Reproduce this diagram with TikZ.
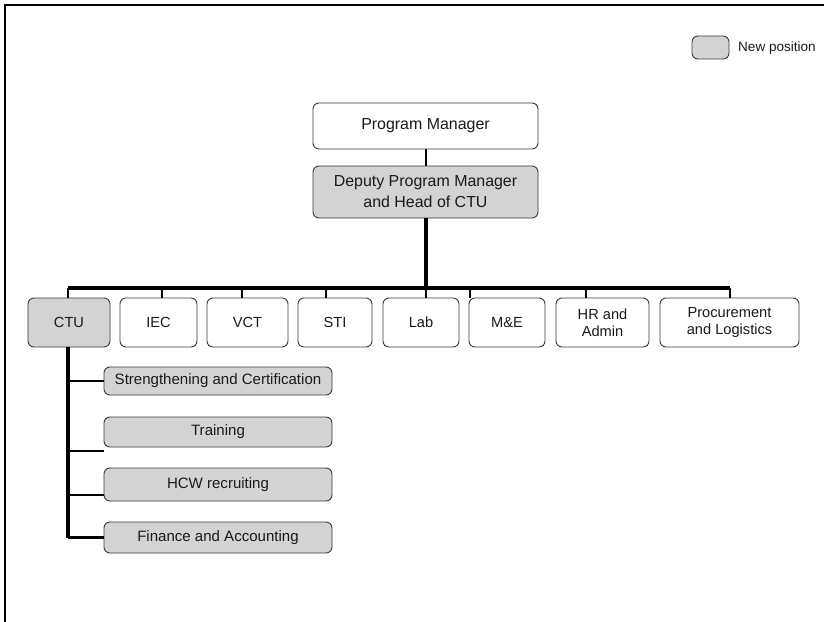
\documentclass[tikz,border=0pt]{standalone}
\usepackage{fontspec}
\setmainfont{Liberation Sans}
\definecolor{boxgray}{HTML}{D3D3D3}
\definecolor{edgegray}{HTML}{3A3A3A}
\definecolor{txt}{HTML}{1A1A1A}
\tikzset{
  orgbox/.style={draw=edgegray, line width=0.9bp, rounded corners=6bp, fill=white,
    inner sep=0pt, align=center, text=txt, font=\fontsize{14.7}{17}\selectfont},
  newbox/.style={orgbox, fill=boxgray},
  topfont/.style={font=\fontsize{16}{21}\selectfont},
  subfont/.style={font=\fontsize{15.1}{17}\selectfont},
  conn/.style={line width=2.2bp, black},
  trunk/.style={line width=3.2bp, black},
  frameline/.style={line width=1.8bp, black}
}
\begin{document}
\begin{tikzpicture}[x=1bp,y=-1bp]
\useasboundingbox (0,0) rectangle (824,622);
% frame
\coordinate (fTL) at (5,5);
\coordinate (fTR) at (824,5);
\coordinate (fBL) at (5,622);
\draw[frameline] (fTR) -- (fTL) -- (fBL);
% legend
\node[newbox, minimum width=37bp, minimum height=23bp] (leg) at (710.5,47.5) {};
\node[anchor=west, inner sep=0pt, text=txt, font=\fontsize{13.6}{15}\selectfont] (legt) at (738,47.5) {New position};
% top
\node[orgbox, topfont, minimum width=225bp, minimum height=46bp] (pm) at (425.5,126) {Program Manager};
\node[newbox, topfont, minimum width=225bp, minimum height=52bp] (dpm) at (425.5,192) {Deputy Program Manager\\and Head of CTU};
% second row
\node[newbox, minimum width=82bp, minimum height=49bp] (ctu) at (69,322.5) {CTU};
\node[orgbox, minimum width=77bp, minimum height=49bp] (iec) at (158.5,322.5) {IEC};
\node[orgbox, minimum width=81bp, minimum height=49bp] (vct) at (247.5,322.5) {VCT};
\node[orgbox, minimum width=74bp, minimum height=49bp] (sti) at (335,322.5) {STI};
\node[orgbox, minimum width=76bp, minimum height=49bp] (lab) at (421,322.5) {Lab};
\node[orgbox, minimum width=76bp, minimum height=49bp] (me) at (507,322.5) {M\&E};
\node[orgbox, minimum width=93bp, minimum height=49bp] (hr) at (602.5,322.5) {HR and\\Admin};
\node[orgbox, minimum width=139bp, minimum height=49bp] (proc) at (729.5,322.5) {Procurement\\and Logistics};
% sub boxes
\node[newbox, subfont, minimum width=228bp, minimum height=28bp] (sc) at (218,381) {Strengthening and Certification};
\node[newbox, subfont, minimum width=228bp, minimum height=30bp] (tr) at (218,432) {Training};
\node[newbox, subfont, minimum width=228bp, minimum height=33bp] (hcw) at (218,484.5) {HCW recruiting};
\node[newbox, subfont, minimum width=228bp, minimum height=31bp] (fin) at (218,537.5) {Finance and Accounting};
% connectors top
\draw[line width=2bp] (pm.south) -- (dpm.north);
\coordinate (busL) at (68,288);
\coordinate (busR) at (730,288);
\coordinate (busM) at (426,288);
\draw[line width=3.8bp] (dpm.south -| busM) -- (busM);
\draw[trunk] (busL) -- (busR);
% drops
\coordinate (dctu) at (68,288);
\coordinate (diec) at (162,288);
\coordinate (dvct) at (242,288);
\coordinate (dsti) at (326,288);
\coordinate (dlab) at (426,288);
\coordinate (dme) at (470,288);
\coordinate (dhr) at (586,288);
\coordinate (dproc) at (730,288);
\draw[conn] (dctu) -- (ctu.north -| dctu);
\draw[conn] (diec) -- (iec.north -| diec);
\draw[conn] (dvct) -- (vct.north -| dvct);
\draw[conn] (dsti) -- (sti.north -| dsti);
\draw[conn] (dlab) -- (lab.north -| dlab);
\draw[conn] (dme) -- (me.north -| dme);
\draw[conn] (dhr) -- (hr.north -| dhr);
\draw[conn] (dproc) -- (proc.north -| dproc);
% CTU sub trunk
\coordinate (ct) at (68,347);
\coordinate (cb) at (68,537.5);
\coordinate (trl) at (68,451);
\coordinate (trr) at (104,451);
\coordinate (hcwl) at (68,495);
\draw[trunk] (ctu.south -| ct) -- (cb);
\draw[conn] (sc.west -| ct) -- (sc.west);
\draw[conn] (trl) -- (trr);
\draw[conn] (hcwl) -- (hcw.west |- hcwl);
\draw[trunk] (cb) -- (fin.west);
\end{tikzpicture}
\end{document}
